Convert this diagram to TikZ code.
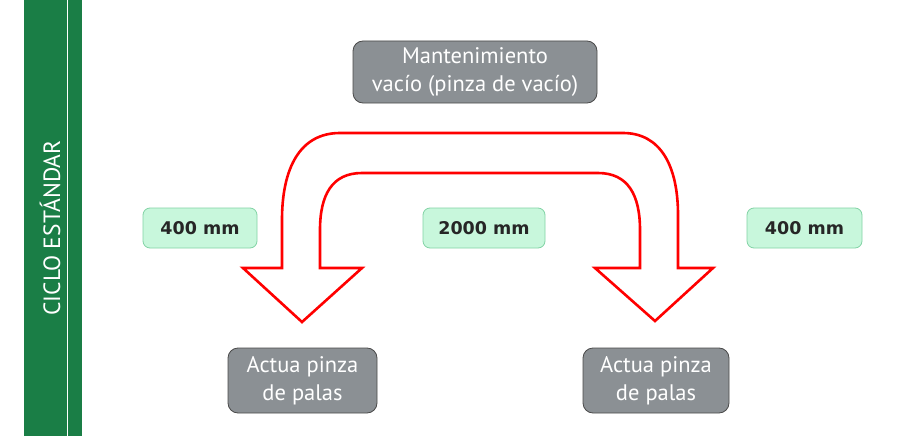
\documentclass[tikz,border=0pt]{standalone}
\usepackage{fontspec}
\setmainfont{PT Sans}
\newfontfamily\labelfont{DejaVu Sans}
\definecolor{barGreen}{HTML}{1A7E46}
\definecolor{boxGray}{HTML}{8B9094}
\definecolor{boxEdge}{HTML}{4A4A4A}
\definecolor{mintFill}{HTML}{C8F7DC}
\definecolor{mintEdge}{HTML}{82D3A5}
\definecolor{arrowRed}{HTML}{FF0000}
\begin{document}
\begin{tikzpicture}[x=1pt,y=-1pt,
  graybox/.style={draw=boxEdge, line width=0.8pt, fill=boxGray, rounded corners=10pt,
    text=white, font=\fontsize{22.5}{28}\selectfont, align=center, inner sep=0pt},
  mintbox/.style={draw=mintEdge, line width=0.8pt, fill=mintFill, rounded corners=7pt,
    text=black!85, font=\labelfont\bfseries\fontsize{17.5}{20}\selectfont, inner sep=0pt},
  bigarrow/.style={draw=arrowRed, line width=2.6pt, line join=miter, fill=white}]
\useasboundingbox (0,0) rectangle (900,436);
\fill[white] (0,0) rectangle (900,436);
% green side bar
\fill[barGreen] (24,0) rectangle (82,436);
\draw[white, line width=0.9pt] (67.5,0) -- (67.5,436);
\node[rotate=90, text=white, font=\fontsize{23.5}{26}\selectfont] (title) at (50,228) {CICLO ESTÁNDAR};
% red double-headed curved arrow
\draw[bigarrow] (243,268) -- (302,322) -- (362,268) -- (320,268) -- (320,230)
  .. controls (320,195) and (332,173) .. (362,173) -- (598,173)
  .. controls (628,173) and (640,195) .. (640,230) -- (640,268) -- (595,268)
  -- (655,321) -- (713,268) -- (678,268) -- (678,215)
  .. controls (678,165) and (660,133) .. (623,133) -- (340,133)
  .. controls (300,133) and (282,168) .. (282,220) -- (282,268) -- cycle;
% boxes
\node[graybox, minimum width=244pt, minimum height=62pt] (top) at (475,72)
  {Mantenimiento\\vacío (pinza de vacío)};
\node[mintbox, minimum width=114pt, minimum height=40pt] (m1) at (200,228) {400 mm};
\node[mintbox, minimum width=122pt, minimum height=40pt] (m2) at (484,228) {2000 mm};
\node[mintbox, minimum width=115pt, minimum height=40pt] (m3) at (804.5,228) {400 mm};
\node[graybox, minimum width=149pt, minimum height=65pt] (b1) at (302.5,380.5)
  {Actua pinza\\de palas};
\node[graybox, minimum width=146pt, minimum height=65pt] (b2) at (656,380.5)
  {Actua pinza\\de palas};
\end{tikzpicture}
\end{document}
